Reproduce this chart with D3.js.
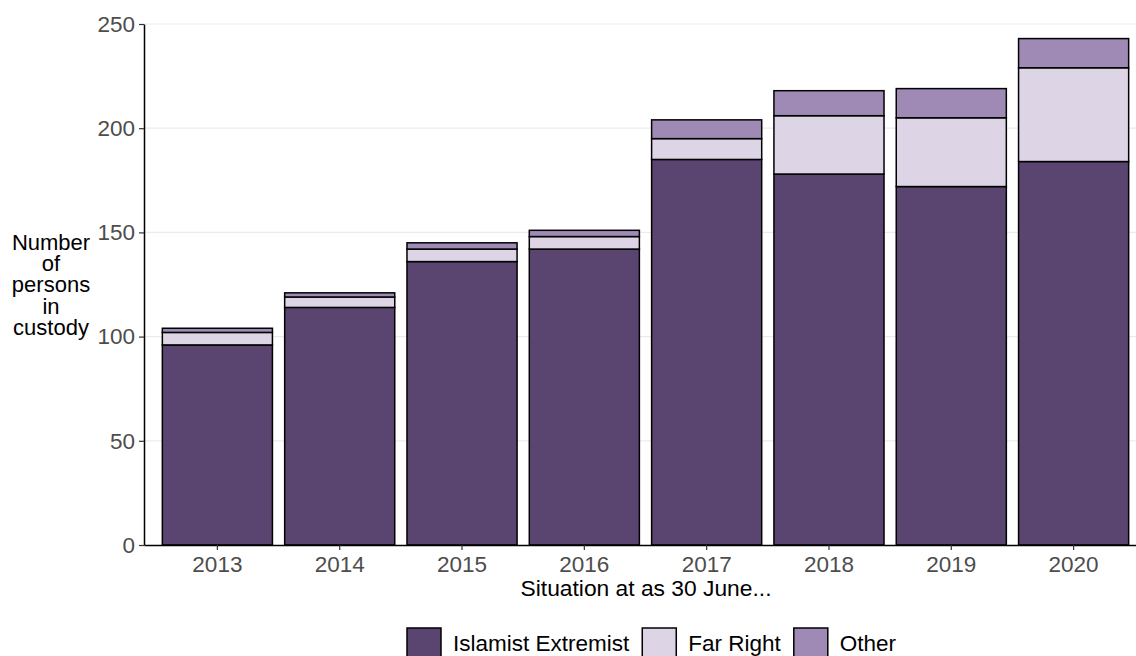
<!DOCTYPE html>
<html>
  <head>
    <meta charset="utf-8">
    <title>Persons in custody</title>
    <script src="https://cdn.jsdelivr.net/npm/d3@7"></script>
    <style>
      body { margin: 0; background: #fff; }
      svg { display: block; font-family: "Liberation Sans", Arial, sans-serif; }
      .tick text { fill: #4d4d4d; font-size: 22.5px; }
      .tick line { stroke: #333; stroke-width: 1.2; }
      .domain { stroke: #000; stroke-width: 1.5; }
      .grid line { stroke: #ebebeb; stroke-width: 1.2; }
    </style>
  </head>
  <body>
    <div id="chart"></div>
    <script>
      // values
      var years = ['2013', '2014', '2015', '2016', '2017', '2018', '2019', '2020'];
      var islamist = [96, 114, 136, 142, 185, 178, 172, 184];
      var farRight = [6, 5, 6, 6, 10, 28, 33, 45];
      var other = [2, 2, 3, 3, 9, 12, 14, 14];
      var yTicks = [0, 50, 100, 150, 200, 250];
      var seriesNames = ['Islamist Extremist', 'Far Right', 'Other'];

      var width = 1136;
      var height = 656;
      var plotLeft = 144, plotRight = 1147, plotTop = 24, plotBottom = 545;

      var color = d3.scaleOrdinal()
        .domain(seriesNames)
        .range(['#5a4570', '#ddd5e6', '#9f8ab6']);

      var rows = years.map(function(y, i) {
        return { year: y, 'Islamist Extremist': islamist[i], 'Far Right': farRight[i], 'Other': other[i] };
      });

      var x = d3.scaleBand()
        .domain(years)
        .range([plotLeft, plotRight])
        .paddingInner(0.1)
        .paddingOuter(0.15);

      var y = d3.scaleLinear()
        .domain([0, 250])
        .range([plotBottom, plotTop]);

      var svg = d3.select('#chart')
        .append('svg')
        .attr('width', width)
        .attr('height', height);

      // horizontal grid
      svg.append('g')
        .attr('class', 'grid')
        .selectAll('line')
        .data(yTicks.slice(1))
        .enter()
        .append('line')
        .attr('x1', plotLeft)
        .attr('x2', width)
        .attr('y1', function(d) { return y(d); })
        .attr('y2', function(d) { return y(d); });

      var stacked = d3.stack().keys(seriesNames)(rows);

      svg.append('g')
        .selectAll('g')
        .data(stacked)
        .enter()
        .append('g')
        .attr('fill', function(d) { return color(d.key); })
        .selectAll('rect')
        .data(function(d) { return d; })
        .enter()
        .append('rect')
        .attr('x', function(d) { return x(d.data.year); })
        .attr('width', x.bandwidth())
        .attr('y', function(d) { return y(d[1]); })
        .attr('height', function(d) { return y(d[0]) - y(d[1]); })
        .attr('stroke', '#000')
        .attr('stroke-width', 1.5);

      svg.append('g')
        .attr('transform', 'translate(0,' + plotBottom + ')')
        .call(d3.axisBottom(x).tickSize(5).tickSizeOuter(0).tickPadding(6));

      svg.append('g')
        .attr('transform', 'translate(' + plotLeft + ',0)')
        .call(d3.axisLeft(y).tickValues(yTicks).tickSize(5).tickSizeOuter(0).tickPadding(4));

      // axis titles
      svg.append('text')
        .attr('x', 646)
        .attr('y', 596)
        .attr('text-anchor', 'middle')
        .style('font-size', '22.8px')
        .text('Situation at as 30 June...');

      var ytitle = svg.append('text')
        .attr('text-anchor', 'middle')
        .style('font-size', '22px');
      ['Number', 'of', 'persons', 'in', 'custody'].forEach(function(t, i) {
        ytitle.append('tspan')
          .attr('x', 51)
          .attr('y', 250 + i * 21.2)
          .text(t);
      });

      // legend
      var keySize = 34;
      var lx = 407;
      seriesNames.forEach(function(name) {
        svg.append('rect')
          .attr('x', lx)
          .attr('y', 628)
          .attr('width', keySize)
          .attr('height', keySize)
          .attr('fill', color(name))
          .attr('stroke', '#000')
          .attr('stroke-width', 1.5);
        var t = svg.append('text')
          .attr('x', lx + keySize + 12)
          .attr('y', 651)
          .style('font-size', '22.5px')
          .text(name);
        lx += keySize + 12 + t.node().getComputedTextLength() + 13;
      });
    </script>
  </body>
</html>
